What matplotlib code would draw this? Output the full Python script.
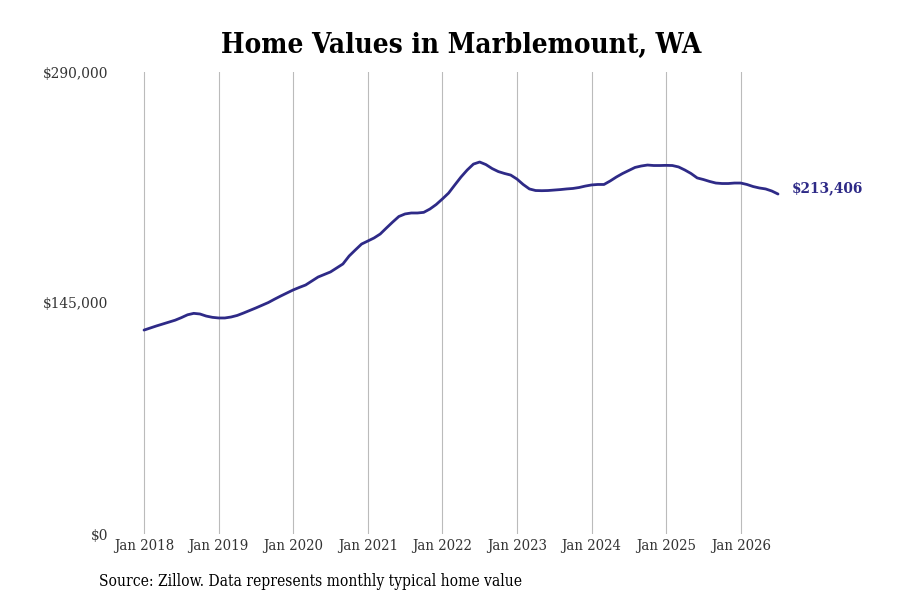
import matplotlib
matplotlib.use("Agg")
import matplotlib.pyplot as plt

# monthly typical home value, Jan 2018 onward
values = [
    128000, 129300, 130600, 131800, 133000, 134200, 135800, 137600, 138500, 138100,
    136800, 136000, 135600, 135600, 136200, 137200, 138700, 140300, 141900, 143600,
    145300, 147400, 149400, 151300, 153200, 154800, 156300, 158800, 161300, 162900,
    164500, 167000, 169500, 174500, 178300, 182000, 183900, 185800, 188300, 192100,
    195800, 199300, 200900, 201500, 201500, 201900, 204000, 206800, 210300, 214000,
    219100, 224100, 228500, 232200, 233500, 231900, 229400, 227500, 226300, 225300,
    222800, 219400, 216600, 215600, 215500, 215600, 215900, 216200, 216600, 216900,
    217500, 218400, 219100, 219400, 219400, 221600, 224100, 226300, 228200, 230100,
    231000, 231600, 231300, 231300, 231400, 231300, 230400, 228500, 226300, 223500,
    222500, 221300, 220300, 220000, 220000, 220300, 220300, 219400, 218100, 217200,
    216600, 215300, 213406,
]
years = list(range(2018, 2027))
tick_labels = [f"Jan {y}" for y in years]
y_ticks = [0, 145000, 290000]
y_labels = ["$0", "$145,000", "$290,000"]
last_label = "$213,406"

line_color = "#2e2a87"

plt.rcParams["font.family"] = "DejaVu Serif"

fig = plt.figure(figsize=(9, 6), dpi=100)
ax = fig.add_axes([115 / 900, 0.11, 755 / 900, 0.77])

months = list(range(len(values)))
ax.plot(months, values, color=line_color, linewidth=2.0, solid_capstyle="round")

ax.set_xlim(-4.67, 116.8)
ax.set_ylim(0, 290000)
ax.set_xticks([12 * i for i in range(len(years))])
ax.set_xticklabels(tick_labels, fontsize=10.7, color="#333333", fontstretch="condensed")
ax.set_yticks(y_ticks)
ax.set_yticklabels(y_labels, fontsize=11, color="#333333", fontstretch="condensed")
ax.tick_params(axis="x", length=0, pad=3.5)
ax.tick_params(axis="y", length=0, pad=5)
ax.grid(axis="x", color="#bbbbbb", linewidth=0.8)
for s in ax.spines.values():
    s.set_visible(False)

ax.annotate(last_label, xy=(months[-1], values[-1]), xytext=(10, 4),
            textcoords="offset points", ha="left", va="center",
            fontsize=11, fontweight="bold", color=line_color, fontstretch="condensed")

fig.text(0.512, 0.924, "Home Values in Marblemount, WA", ha="center", va="center",
         fontsize=20, fontweight="bold", color="black", fontstretch="condensed")
fig.text(99 / 900, 0.03, "Source: Zillow. Data represents monthly typical home value",
         ha="left", va="center", fontsize=11.2, color="black", fontstretch="condensed")

fig.savefig("out.png", dpi=100)
